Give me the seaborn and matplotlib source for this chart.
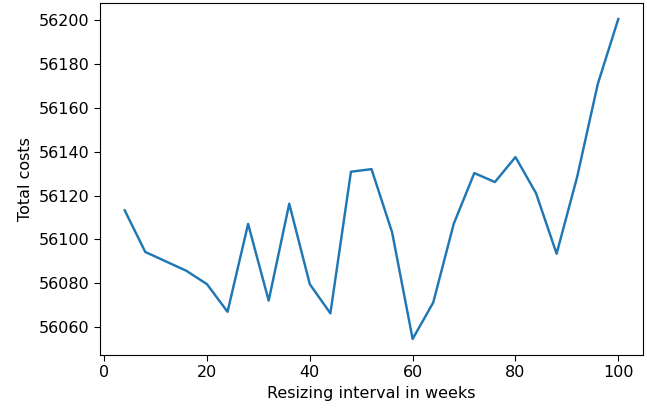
import pandas as pd
import matplotlib
matplotlib.use("Agg")
import matplotlib.pyplot as plt
import seaborn as sns

# values
weeks = [4, 8, 12, 16, 20, 24, 28, 32, 36, 40, 44, 48, 52,
         56, 60, 64, 68, 72, 76, 80, 84, 88, 92, 96, 100]
costs = [56113.3, 56094.3, 56090.0, 56085.7, 56079.6, 56067.0, 56107.1, 56072.1,
         56116.3, 56079.6, 56066.3, 56130.9, 56132.1, 56103.3, 56054.6, 56071.2,
         56107.2, 56130.3, 56126.2, 56137.6, 56121.1, 56093.5, 56128.6, 56170.9,
         56200.6]

df = pd.DataFrame({"weeks": weeks, "costs": costs})

# slightly bigger text than the matplotlib default, like the reference
plt.rcParams["font.size"] = 11.5
plt.rcParams["xtick.major.size"] = 4
plt.rcParams["ytick.major.size"] = 4

fig, ax = plt.subplots(figsize=(6.47, 4.08), dpi=100)
sns.lineplot(data=df, x="weeks", y="costs", ax=ax, color="#1f77b4", linewidth=1.75)
ax.set_xlabel("Resizing interval in weeks")
ax.set_ylabel("Total costs")
ax.set_xticks([0, 20, 40, 60, 80, 100])
ax.set_yticks(range(56060, 56201, 20))

fig.subplots_adjust(left=0.1546, right=0.9938, top=0.9926, bottom=0.13)
fig.savefig("out.png", dpi=100)
